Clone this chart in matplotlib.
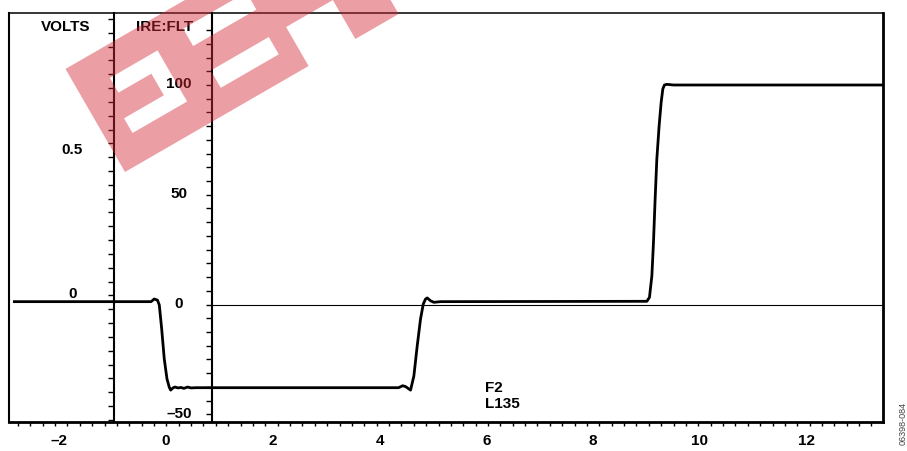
import numpy as np
import matplotlib
matplotlib.use("Agg")
import matplotlib.pyplot as plt
from matplotlib.path import Path
from matplotlib.patches import PathPatch
from matplotlib.transforms import Affine2D, ScaledTranslation

plt.rcParams['font.family'] = ['Liberation Sans', 'DejaVu Sans']
plt.rcParams['font.weight'] = 'bold'
plt.rcParams['font.size'] = 11

# trace: time (x units) and level in IRE
t = [-2.84, -0.28, -0.22, -0.16, -0.125, -0.08, -0.032, 0.019, 0.062, 0.088,
     0.131, 0.168, 0.224, 0.28, 0.337, 0.406, 0.467, 0.561,
     4.357, 4.432, 4.488, 4.581, 4.643, 4.706, 4.768, 4.819, 4.862, 4.893,
     4.955, 5.017, 5.142,
     9.007, 9.056, 9.101, 9.131, 9.162, 9.194, 9.237, 9.275, 9.306, 9.336,
     9.381, 9.505, 13.41]
ire = [1.3, 1.3, 2.5, 2.0, -0.2, -11.2, -24.8, -33.9, -37.7, -39.0,
       -38.0, -37.6, -38.0, -37.8, -38.2, -37.6, -38.0, -37.9,
       -37.9, -37.0, -37.4, -39.0, -32.6, -18.8, -6.6, 0.2, 2.5, 3.0,
       1.7, 1.0, 1.3,
       1.46, 3.28, 13.1, 28.3, 48.1, 66.3, 81.5, 92.1, 98.2, 100.0,
       100.3, 100.0, 100.0]

x_ticks = [-2, 0, 2, 4, 6, 8, 10, 12]
x_labels = ['\u20132', '0', '2', '4', '6', '8', '10', '12']
ire_ticks = [-50, 0, 50, 100]
ire_labels = ['\u201350', '0', '50', '100']
volt_ticks = [0, 0.5]
volt_labels = ['0', '0.5']
notes = ['F2', 'L135']

# scales / layout
X_LIM = (-2.94, 13.43)
IRE_LIM = (-53.3, 132.8)
VOLT_AXIS_X = -0.974
IRE_AXIS_X = 0.854
VOLT_ZERO_IRE = 5.7      # where 0 V sits on the IRE scale
IRE_PER_VOLT = 131.8
volt_lim = tuple((v - VOLT_ZERO_IRE) / IRE_PER_VOLT for v in IRE_LIM)

fig = plt.figure(figsize=(9.07, 4.52), dpi=100)
pos = [9 / 907, (452 - 422.5) / 452, (883 - 9) / 907, (422.5 - 14) / 452]

# main axes: frame, time axis, trace
ax = fig.add_axes(pos)
ax.set_xlim(*X_LIM)
ax.set_ylim(*IRE_LIM)
ax.plot(t, ire, color='black', lw=2.0, solid_joinstyle='round', zorder=3)
ax.hlines(0, IRE_AXIS_X, X_LIM[1], color='black', lw=0.8, zorder=2)

ax.set_yticks([])
ax.set_xticks(x_ticks)
ax.set_xticklabels(x_labels)
ax.set_xticks(np.arange(-2.773, X_LIM[1], 0.2317), minor=True)
ax.tick_params(axis='x', which='major', length=0, pad=8, labelsize=11)
ax.tick_params(axis='x', which='minor', length=3.2, width=1, direction='out')
ax.spines['top'].set_linewidth(1.1)
ax.spines['left'].set_linewidth(1.5)
ax.spines['right'].set_linewidth(2.0)
ax.spines['bottom'].set_linewidth(2.0)

ax.text(-1.87, 127, 'VOLTS', ha='center', va='center', fontsize=11)
ax.text(-0.02, 127, 'IRE:FLT', ha='center', va='center', fontsize=11)
ax.text(5.98, -37.4, notes[0], ha='left', va='center', fontsize=11)
ax.text(5.98, -44.9, notes[1], ha='left', va='center', fontsize=11)


def inner_axis(ylim, xpos):
    a = fig.add_axes(pos, sharex=ax)
    a.patch.set_visible(False)
    for s in ['top', 'right', 'bottom']:
        a.spines[s].set_visible(False)
    a.spines['left'].set_position(('data', xpos))
    a.spines['left'].set_linewidth(1.5)
    a.set_ylim(*ylim)
    a.tick_params(axis='x', which='both', bottom=False, labelbottom=False)
    return a


# IRE scale
ax_ire = inner_axis(IRE_LIM, IRE_AXIS_X)
ax_ire.set_yticks(ire_ticks)
ax_ire.set_yticklabels(ire_labels)
ax_ire.set_yticks(np.arange(-50, 131, 6.25), minor=True)
ax_ire.tick_params(axis='y', which='both', length=4.5, width=1, direction='out')
ax_ire.tick_params(axis='y', which='major', pad=19, labelsize=11)
lift = ScaledTranslation(0, 3 / 100, fig.dpi_scale_trans)
for lab in ax_ire.get_yticklabels():
    lab.set_horizontalalignment('center')
    lab.set_transform(lab.get_transform() + lift)

# volts scale
ax_v = inner_axis(volt_lim, VOLT_AXIS_X)
ax_v.set_yticks(volt_ticks)
ax_v.set_yticklabels(volt_labels)
ax_v.set_yticks(np.arange(0.944, volt_lim[0], -0.0478), minor=True)
ax_v.tick_params(axis='y', which='major', length=0, pad=30, labelsize=11)
ax_v.tick_params(axis='y', which='minor', length=4.3, width=1, direction='out')
for lab in ax_v.get_yticklabels():
    lab.set_horizontalalignment('center')

fig.text(0.9956, 0.015, '06398-084', rotation=90, ha='center', va='bottom',
         fontsize=6.5, fontweight='normal', color='#444444')

# red watermark stamp over the top left (band frame: u along, v across)
def ring(pts, ccw):
    pts = list(pts)
    area = sum(x0 * y1 - x1 * y0 for (x0, y0), (x1, y1) in zip(pts, pts[1:] + pts[:1]))
    if (area > 0) != ccw:
        pts = pts[::-1]
    return pts + [pts[0]], [Path.MOVETO] + [Path.LINETO] * (len(pts) - 1) + [Path.CLOSEPOLY]


outer = [(0, 0), (212, 0), (212, 45), (266, 45), (266, 0), (316, 0), (316, 119), (0, 119)]
holes = [
    [(26, 30), (89, 30), (89, 89), (34, 89), (34, 72), (72, 72), (72, 47), (26, 47)],
    [(125, 25), (192, 25), (192, 45), (125, 45)],
    [(122, 75), (195, 75), (195, 95), (122, 95)],
]
verts, codes = ring(outer, True)
for h in holes:
    v, c = ring(h, False)
    verts += v
    codes += c
stamp = PathPatch(Path(verts, codes), facecolor='#d42a35', edgecolor='none', alpha=0.45,
                  transform=Affine2D().rotate_deg(30).translate(125, 452 - 173), zorder=20)
fig.add_artist(stamp)

fig.savefig('out.png', dpi=100)
